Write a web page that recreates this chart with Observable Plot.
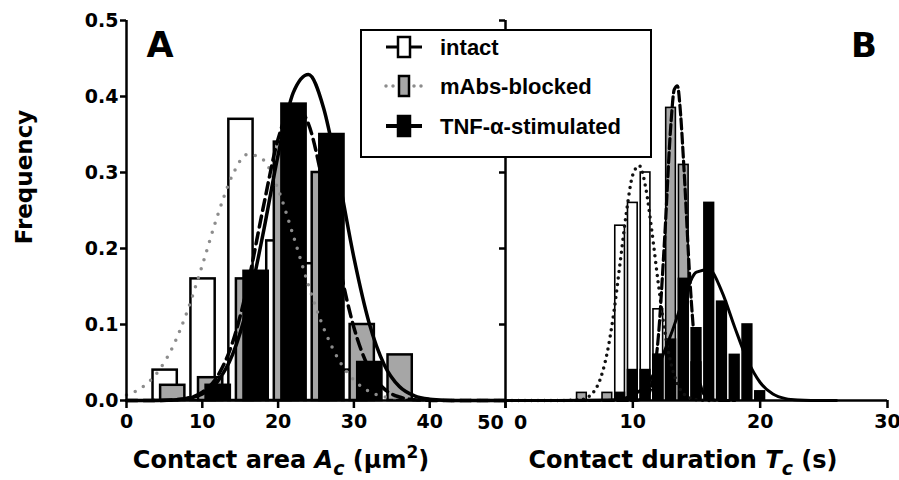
<!DOCTYPE html>
<html><head><meta charset="utf-8">
<script src="https://cdn.jsdelivr.net/npm/d3@7"></script>
<script src="https://cdn.jsdelivr.net/npm/@observablehq/plot@0.6"></script>
<style>
body{margin:0;background:#fff;}
#fig{position:relative;width:899px;height:480px;overflow:hidden;background:#fff;}
</style></head><body><div id="fig"></div>
<script>
// ---------- data ----------
const seriesNames = ["intact", "mAbs-blocked", "TNF-\u03b1-stimulated"];
const yTicks = [0, 0.1, 0.2, 0.3, 0.4, 0.5];
const xTicksA = [0, 10, 20, 30, 40, 50];
const xTicksB = [0, 10, 20, 30];

// Panel A histogram (contact area bins)
const binsA    = [5, 10, 15, 20, 25, 30, 35];
const intactA  = [0.04, 0.16, 0.37, 0.21, 0.18, 0.04, 0];
const blockedA = [0.02, 0.03, 0.16, 0.34, 0.30, 0.10, 0.06];
const tnfA     = [0, 0.02, 0.17, 0.39, 0.35, 0.05, 0];

// Panel A fitted curves
const fitXA       = [0,2,4,6,8,10,12,14,16,18,20,22,24,26,28,30,32,34,36,38,40,42,44,50];
const intactFitA  = [0.0071,0.0169,0.0359,0.0685,0.117,0.178,0.243,0.297,0.324,0.317,0.278,0.217,0.152,0.0956,0.0536,0.0269,0.0121,0.0049,0.0017,0.0006,0.0002,0.0001,0,0];
const blockedFitA = [0,0,0.0001,0.0007,0.0031,0.0109,0.0318,0.0766,0.1526,0.252,0.344,0.389,0.364,0.282,0.181,0.096,0.0421,0.0153,0.0046,0.0011,0.0002,0,0,0];
const tnfFitA     = [0,0,0.0001,0.0006,0.0025,0.0086,0.0248,0.0606,0.125,0.2185,0.323,0.405,0.429,0.385,0.293,0.188,0.1024,0.0472,0.0184,0.0061,0.0017,0.0004,0.0001,0];

// Panel B histogram (contact duration bins)
const binsB    = [6, 7, 8, 9, 10, 11, 12, 13, 14, 15, 16, 17, 18, 19, 20];
const intactB  = [0, 0, 0, 0.23, 0.26, 0.30, 0.12, 0.08, 0, 0, 0, 0, 0, 0, 0];
const blockedB = [0.01, 0, 0.01, 0, 0, 0, 0.06, 0.385, 0.31, 0.05, 0, 0, 0, 0, 0];
const tnfB     = [0, 0, 0, 0.01, 0.04, 0.04, 0.06, 0.08, 0.16, 0.095, 0.26, 0.13, 0.06, 0.10, 0.012];

// Panel B fitted curves
const intactFitXB  = [0,2,4,6,7,7.5,8,8.5,9,9.5,10,10.5,11,11.5,12,12.5,13,13.5,14,15,16];
const intactFitB   = [0,0,0,0.0015,0.013,0.031,0.064,0.115,0.181,0.248,0.297,0.309,0.281,0.222,0.154,0.092,0.0485,0.022,0.0089,0.0009,0];
const blockedFitXB = [0,4,8,10,11,11.5,12,12.5,13,13.25,13.5,13.75,14,14.5,15,15.5,16,17,18];
const blockedFitB  = [0,0,0,0,0.0037,0.0215,0.0833,0.214,0.366,0.409,0.414,0.377,0.310,0.154,0.051,0.011,0.0016,0,0];
const tnfFitXB     = [0,4,8,9,10,11,12,13,14,15,16,17,18,19,20,21,22,23,24,26];
const tnfFitB      = [0,0,0.0005,0.0019,0.0069,0.0197,0.0459,0.0871,0.134,0.169,0.172,0.143,0.0965,0.053,0.0237,0.0086,0.0025,0.0006,0.0001,0];

// ---------- helpers ----------
const bars = (pos, vals, off) => pos.map((p, i) => ({x: p + off, v: vals[i]})).filter(d => d.v > 0);
const pts = (xs, ys) => xs.map((x, i) => ({x, y: ys[i]}));
const GRAY = "#a6a6a6", DOT = "#8c8c8c";
const fmt = d3.format(".1f");
const baseStyle = {background: "transparent", overflow: "visible", fontFamily: "'DejaVu Sans', sans-serif", fontSize: "19px", fontWeight: "bold", color: "black"};

function rects(data, hw, fill, sw) {
  return Plot.rect(data, {x1: d => d.x - hw, x2: d => d.x + hw, y1: d => 0, y2: "v", fill, stroke: "black", strokeWidth: sw});
}

// ---------- panel A ----------
const hwA = 1.6;
const plotA = Plot.plot({
  width: 506, height: 480,
  marginLeft: 126, marginRight: 1, marginTop: 20, marginBottom: 80,
  style: baseStyle,
  x: {domain: [0, 50]},
  y: {domain: [0, 0.5]},
  marks: [
    rects(bars(binsA, intactA, 0.1), hwA, "white", 2.5),
    rects(bars(binsA, blockedA, 1.1), hwA, GRAY, 2.5),
    rects(bars(binsA, tnfA, 2.1), hwA, "black", 2.5),
    Plot.line(pts(fitXA, intactFitA), {x: "x", y: "y", curve: "monotone-x", stroke: DOT, strokeWidth: 3.5, strokeDasharray: "0 9.5", strokeLinecap: "round"}),
    Plot.line(pts(fitXA, blockedFitA), {x: "x", y: "y", curve: "monotone-x", stroke: "black", strokeWidth: 3.5, strokeDasharray: "11 6"}),
    Plot.line(pts(fitXA, tnfFitA), {x: "x", y: "y", curve: "monotone-x", stroke: "black", strokeWidth: 3.5}),
    Plot.ruleY([0], {strokeWidth: 2.5}),
    Plot.ruleX([0], {strokeWidth: 2.5}),
    Plot.axisY({ticks: yTicks, tickFormat: fmt, tickSize: 6, tickPadding: 2, strokeWidth: 2.5, label: null}),
    Plot.axisX({ticks: xTicksA, tickFormat: d => d === 50 ? "" : d, tickSize: 8, tickPadding: 6, strokeWidth: 2.5, label: null}),
    Plot.text([{x: 50, label: "50"}], {x: "x", text: "label", y: d => 0, dy: 22, dx: -15, fill: "black"})
  ]
});

// ---------- panel B ----------
const hwB = 0.38;
const plotB = Plot.plot({
  width: 402, height: 480,
  marginLeft: 8, marginRight: 12, marginTop: 20, marginBottom: 80,
  style: baseStyle,
  x: {domain: [0, 30]},
  y: {domain: [0, 0.5]},
  marks: [
    rects(bars(binsB, intactB, 0), hwB, "white", 1.6),
    rects(bars(binsB, blockedB, 0), hwB, GRAY, 1.6),
    rects(bars(binsB, tnfB, 0), hwB, "black", 1.6),
    Plot.line(pts(intactFitXB, intactFitB), {x: "x", y: "y", curve: "monotone-x", stroke: "#111", strokeWidth: 3.5, strokeDasharray: "0 6.5", strokeLinecap: "round"}),
    Plot.line(pts(blockedFitXB, blockedFitB), {x: "x", y: "y", curve: "monotone-x", stroke: "black", strokeWidth: 3.2, strokeDasharray: "10 4"}),
    Plot.line(pts(tnfFitXB, tnfFitB), {x: "x", y: "y", curve: "monotone-x", stroke: "black", strokeWidth: 3}),
    Plot.ruleY([0], {strokeWidth: 2.5}),
    Plot.ruleX([0], {strokeWidth: 2.5}),
    Plot.axisY({ticks: yTicks, tickFormat: () => "", tickSize: 6, strokeWidth: 2.5, label: null}),
    Plot.axisX({ticks: xTicksB, tickFormat: d => d === 0 ? "" : d, tickSize: 8, tickPadding: 6, strokeWidth: 2.5, label: null}),
    Plot.text([{x: 0, label: "0"}], {x: "x", text: "label", y: d => 0, dy: 22, dx: 15, fill: "black"})
  ]
});

const fig = document.getElementById("fig");
for (const [p, left] of [[plotA, 0], [plotB, 497]]) {
  p.style.position = "absolute";
  p.style.left = left + "px";
  p.style.top = "0px";
  fig.appendChild(p);
}

// ---------- titles, panel letters, legend ----------
const ov = d3.select(fig).append("svg")
  .attr("width", 899).attr("height", 480)
  .style("position", "absolute").style("left", "0px").style("top", "0px")
  .style("pointer-events", "none")
  .attr("font-family", "'DejaVu Sans', sans-serif").attr("font-weight", "bold");

ov.append("text").attr("transform", "translate(24,177) rotate(-90)")
  .attr("text-anchor", "middle").attr("dy", "0.35em").attr("font-size", 23).text("Frequency");
ov.append("text").attr("x", 160).attr("y", 57).attr("text-anchor", "middle").attr("font-size", 35).text("A");
ov.append("text").attr("x", 864).attr("y", 57).attr("text-anchor", "middle").attr("font-size", 34).text("B");

const tA = ov.append("text").attr("x", 281).attr("y", 468).attr("text-anchor", "middle").attr("font-size", 24);
tA.append("tspan").text("Contact area ");
tA.append("tspan").attr("font-style", "italic").text("A");
tA.append("tspan").attr("font-style", "italic").attr("font-size", 19).attr("dy", 7).text("c");
tA.append("tspan").attr("dy", -7).text(" (\u03bcm");
tA.append("tspan").attr("font-size", 17).attr("dy", -10).text("2");
tA.append("tspan").attr("dy", 10).text(")");

const tB = ov.append("text").attr("x", 683).attr("y", 468).attr("text-anchor", "middle").attr("font-size", 24);
tB.append("tspan").text("Contact duration ");
tB.append("tspan").attr("font-style", "italic").text("T");
tB.append("tspan").attr("font-style", "italic").attr("font-size", 19).attr("dy", 7).text("c");
tB.append("tspan").attr("dy", -7).text(" (s)");

// legend
ov.append("rect").attr("x", 361).attr("y", 30).attr("width", 290).attr("height", 127)
  .attr("fill", "white").attr("stroke", "black").attr("stroke-width", 2);
const rowsY = [47, 86, 126];
const leg = [
  {line: {stroke: "black", w: 3}, box: {fill: "white", x: 398, w: 12}},
  {line: {stroke: DOT, w: 3.5, dash: "0 7", cap: "round"}, box: {fill: GRAY, x: 399, w: 10}},
  {line: {stroke: "black", w: 4}, box: {fill: "black", x: 398, w: 12}}
];
leg.forEach((s, i) => {
  const y = rowsY[i];
  const l = ov.append("line").attr("x1", 386).attr("x2", 422).attr("y1", y).attr("y2", y)
    .attr("stroke", s.line.stroke).attr("stroke-width", s.line.w);
  if (s.line.dash) l.attr("stroke-dasharray", s.line.dash).attr("stroke-linecap", s.line.cap);
  ov.append("rect").attr("x", s.box.x).attr("y", y - 10).attr("width", s.box.w).attr("height", 20)
    .attr("fill", s.box.fill).attr("stroke", "black").attr("stroke-width", 2.5);
  ov.append("text").attr("x", 440).attr("y", y + 8)
    .attr("font-family", "'Liberation Sans', Arial, sans-serif").attr("font-size", 22).text(seriesNames[i]);
});
</script></body></html>
